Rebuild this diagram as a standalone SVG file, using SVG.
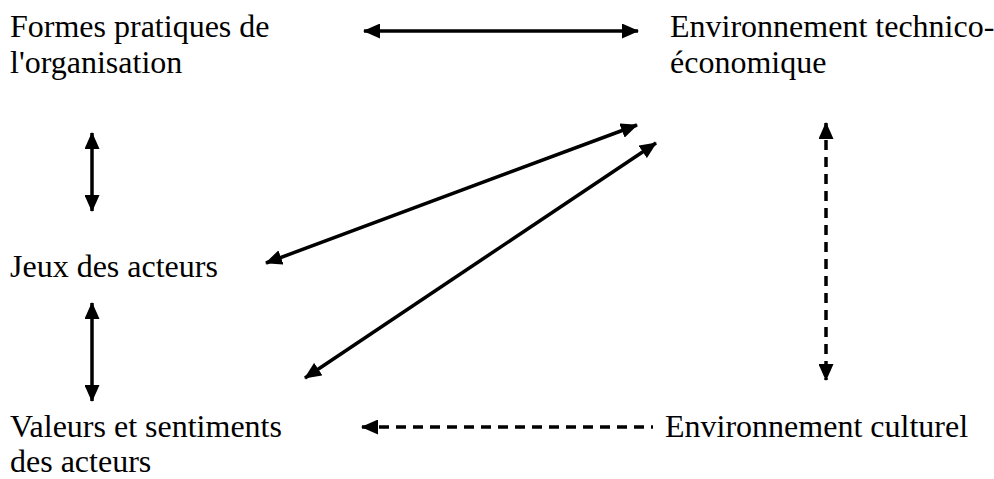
<svg xmlns="http://www.w3.org/2000/svg" width="994" height="479" viewBox="0 0 994 479">
<style>
.t{font-family:"Liberation Serif","Times New Roman",serif;font-size:32px;fill:#000}
.c{stroke:#000;stroke-width:3.5;fill:none;marker-start:url(#ah);marker-end:url(#ah)}
.d{stroke-dasharray:10 7}
</style>
<defs>
<marker id="ah" markerUnits="userSpaceOnUse" markerWidth="17" markerHeight="15" viewBox="0 0 17 15" refX="16" refY="7.5" orient="auto-start-reverse">
<path d="M0,0 L17,7.5 L0,15 Z" fill="#000"/>
</marker>
</defs>
<rect width="994" height="479" fill="#fff"/>
<g id="n-formes"><text class="t" x="10" y="37">Formes pratiques de</text><text class="t" x="10" y="73">l'organisation</text></g>
<g id="n-envtech"><text class="t" x="670" y="37">Environnement technico-</text><text class="t" x="670" y="73">économique</text></g>
<g id="n-jeux"><text class="t" x="10" y="277">Jeux des acteurs</text></g>
<g id="n-valeurs"><text class="t" x="10" y="437">Valeurs et sentiments</text><text class="t" x="10" y="472">des acteurs</text></g>
<g id="n-envcult"><text class="t" x="665" y="437">Environnement culturel</text></g>
<g id="connectors">
<line class="c" x1="364" y1="31" x2="638" y2="31" stroke-width="3"/>
<line class="c" x1="92" y1="133" x2="92" y2="211"/>
<line class="c" x1="92" y1="303" x2="92" y2="401"/>
<line class="c" x1="266" y1="263" x2="637" y2="125"/>
<line class="c" x1="305" y1="378" x2="656" y2="143"/>
<line class="c d" x1="826" y1="123" x2="826" y2="380"/>
<line class="c d" x1="362" y1="427" x2="653" y2="427" style="marker-end:none"/>
</g>
</svg>
